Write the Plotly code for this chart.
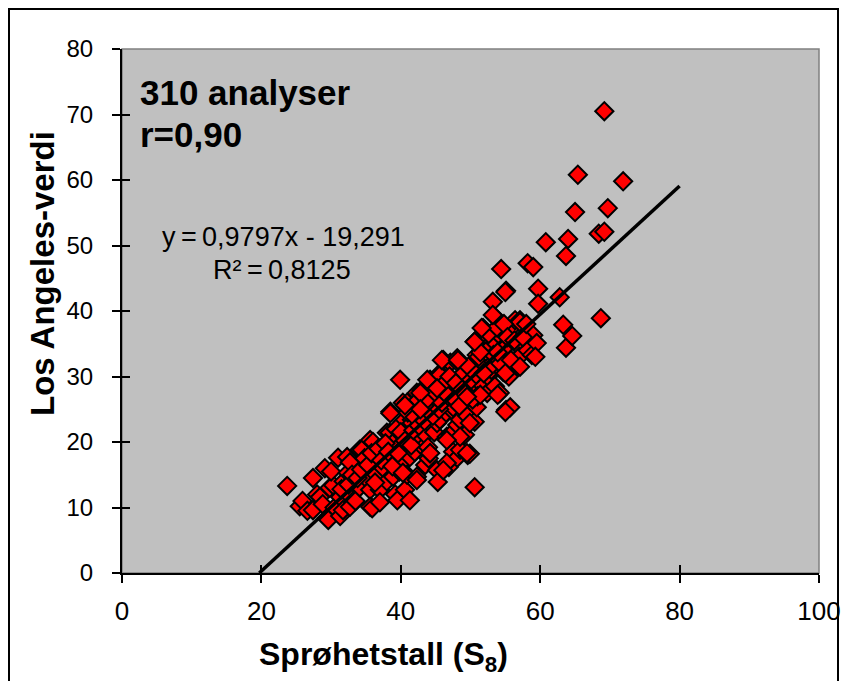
import plotly.graph_objects as go

# Sprøhetstall (S8) vs Los Angeles-verdi
pts = [
    (23.7,13.3),(25.5,10.2),(25.9,11.0),(26.6,9.5),(27.4,9.6),(27.4,14.5),(28.0,12.0),(28.4,11.6),
    (28.8,10.5),(29.1,16.0),(29.4,8.4),(29.6,8.1),(29.8,13.0),(30.3,13.4),(30.0,15.5),(30.5,10.0),
    (31.0,17.6),(31.3,11.6),(31.3,8.7),(31.7,9.6),(31.8,14.0),(32.3,17.7),(32.4,15.3),(32.7,16.9),
    (32.7,10.1),(32.0,12.5),(33.2,13.8),(33.5,11.0),
    (34.1,13.1),(34.1,18.8),(34.4,18.8),(34.6,16.0),(35.0,14.5),(35.6,20.3),(35.6,12.7),(35.6,10.1),
    (35.9,9.9),(36.0,20.0),(36.0,17.0),(36.6,17.7),(36.5,15.0),(37.0,12.7),(37.0,10.8),(37.4,18.8),
    (37.5,16.0),(38.0,21.4),(38.0,14.0),(38.4,21.4),(38.5,17.3),(38.5,24.6),(38.7,19.5),(38.9,14.7),
    (39.2,12.0),(39.5,11.1),(39.5,17.3),(39.5,20.5),(39.9,29.5),(39.9,19.5),(39.8,15.5),
    (40.3,26.0),(40.3,23.1),(40.3,16.8),(40.3,19.1),(40.6,12.7),(40.9,26.0),(40.9,15.0),(41.3,11.1),
    (41.3,17.7),(41.6,23.4),(41.6,22.9),(41.0,21.0),(42.3,27.5),(42.3,14.7),(42.3,20.8),(42.3,14.2),
    (42.5,26.4),(42.0,18.5),(43.0,27.5),(43.0,27.9),(43.2,24.4),(43.2,19.2),(43.5,21.1),(43.5,16.5),
    (43.9,19.2),(44.2,29.5),(44.5,28.7),(44.0,23.0),(44.5,25.5),(44.8,21.5),(44.0,17.5),
    (45.2,22.9),(45.2,26.4),(45.2,15.7),(45.3,13.9),(45.3,26.9),(45.6,30.5),(45.6,30.2),(45.6,23.4),
    (46.1,32.5),(46.6,20.8),(46.9,16.2),(46.0,28.0),(46.5,24.5),(47.1,32.1),(47.1,28.4),(47.1,21.1),
    (47.3,24.9),(47.5,25.3),(47.5,18.5),(48.1,32.2),(48.1,32.8),(48.1,22.6),(48.1,17.6),(48.2,26.4),
    (48.5,29.9),(48.5,23.4),(48.5,18.8),(48.0,27.5),(49.2,21.1),(49.5,26.4),(49.6,18.0),(49.9,18.2),
    (49.0,30.5),(49.5,24.0),(49.8,28.5),
    (50.6,23.1),(50.6,13.1),(50.4,31.3),(50.9,33.3),(50.9,35.6),(50.6,35.3),(50.9,25.3),(50.5,28.0),
    (51.4,29.0),(51.8,37.4),(51.5,32.0),(51.0,27.0),(52.4,27.5),(52.8,32.8),(52.0,35.0),(52.5,30.0),
    (53.1,35.1),(53.1,35.3),(53.2,41.4),(53.5,39.1),(53.0,31.0),(53.5,28.5),(54.2,27.5),(54.4,46.4),
    (54.7,30.7),(54.7,33.6),(54.0,36.5),(55.1,43.1),(55.1,24.9),(55.5,30.0),(55.0,34.5),(55.7,25.3),
    (56.1,37.7),(56.4,38.6),(56.7,34.8),(56.8,31.5),(57.1,38.6),(57.1,38.3),(57.0,33.0),(58.2,47.3),
    (58.2,34.0),(58.8,33.3),(59.0,46.7),(59.0,36.3),(59.5,35.1),(59.7,43.4),(59.7,41.1),(60.8,50.5),
    (62.8,42.1),(63.3,37.9),(63.7,48.4),(63.7,34.4),(64.0,51.0),(64.6,36.2),(65.0,55.1),(65.4,60.8),
    (68.4,51.8),(68.7,38.9),(69.2,52.1),(69.2,70.5),(69.7,55.7),(71.9,59.8),
    # denser core of the cloud
    (31.5,12.8),(32.5,13.5),(33.0,15.0),(33.8,14.5),(34.3,15.8),(34.8,17.5),(35.3,16.5),(35.8,18.3),
    (36.3,13.8),(36.8,19.0),(37.2,17.2),(37.8,19.8),(38.2,18.5),(38.8,16.3),(39.3,22.0),(39.6,18.3),
    (40.0,21.5),(40.6,20.2),(41.0,24.5),(41.5,19.5),(41.8,21.8),(42.0,23.8),(42.6,22.5),(42.8,25.0),
    (43.4,23.2),(43.8,26.5),(44.2,18.3),(44.6,24.0),(45.0,27.5),(45.5,25.0),(45.9,26.0),(46.3,29.0),
    (46.8,27.0),(47.0,30.0),(47.7,26.5),(47.9,29.0),(48.4,25.5),(48.8,28.0),(49.3,27.3),(49.7,31.5),
    (50.1,29.5),(50.3,26.5),(50.8,30.3),(51.2,33.0),(51.6,34.0),(51.9,30.5),(52.2,33.8),(52.6,36.5),
    (53.3,33.3),(53.8,37.5),(54.3,32.0),(54.8,38.0),(55.3,36.0),(55.8,32.5),(56.3,35.5),(57.5,36.0),
    (58.0,38.0),(59.3,33.0),(57.1,31.5),(55.0,30.5),(53.9,33.7),(51.4,33.7),(45.9,32.5),(48.2,32.5),
    (43.8,29.5),(45.2,28.2),(53.9,27.2),(55.0,24.6),(51.4,27.2),(49.5,26.9),(42.8,27.5),(40.6,25.6),
    (38.5,24.4),(42.8,25.0),(49.9,22.9),(48.5,20.8),(46.6,20.3),(44.2,18.3),(46.6,16.8),(49.5,18.3),
    (40.3,15.3),(46.1,15.7),(55.0,42.9),(53.2,39.4),(51.6,37.4),(50.6,35.3),
]
s8 = [p[0] for p in pts]
la = [p[1] for p in pts]

slope = 0.9797
intercept = -19.291
x_end = 80
x_tick_vals = [0, 20, 40, 60, 80, 100]
y_tick_vals = [0, 10, 20, 30, 40, 50, 60, 70, 80]

x_line = [-intercept / slope, x_end]
y_line = [slope * v + intercept for v in x_line]

FONT = "Liberation Sans, Arial, sans-serif"
TS = "\u2009"  # thin space, as around "=" in the reference

# page body has an 8px margin; the figure is sized so the plot lands where the reference has it
OFF = 8
W, H = 853 - OFF, 681 - OFF
PL, PR, PT, PB = 122, 819, 49, 573   # plot area in window pixels


def px(xp):
    return (xp - PL) / (PR - PL)


def py(yp):
    return (PB - yp) / (PB - PT)


fig = go.Figure()
fig.add_trace(go.Scatter(
    x=s8, y=la, mode="markers",
    marker=dict(symbol="diamond", size=14, color="#FF0000",
                line=dict(color="#000000", width=2)),
    showlegend=False, hoverinfo="skip"))
fig.add_trace(go.Scatter(
    x=x_line, y=y_line, mode="lines",
    line=dict(color="#000000", width=3.5),
    showlegend=False, hoverinfo="skip"))
# invisible trace to activate the overlay axes (inside half of the crossing ticks)
fig.add_trace(go.Scatter(x=[None], y=[None], xaxis="x2", yaxis="y2", showlegend=False))

axis_common = dict(showgrid=False, zeroline=False, showline=True, linecolor="#000000",
                   linewidth=2, tickcolor="#000000", tickwidth=2)

fig.update_layout(
    width=W, height=H,
    margin=dict(l=PL - OFF, r=W - (PR - OFF), t=PT - OFF, b=H - (PB - OFF), autoexpand=False),
    paper_bgcolor="#FFFFFF", plot_bgcolor="#C0C0C0",
    font=dict(family=FONT, color="#000000"),
    xaxis=dict(range=[0, 100], tickvals=x_tick_vals, ticks="outside", ticklen=8,
               tickfont=dict(size=26, family=FONT), ticklabelstandoff=6,
               **axis_common),
    yaxis=dict(range=[0, 80], tickvals=y_tick_vals, ticks="outside", ticklen=8,
               tickfont=dict(size=24, family=FONT), ticklabelstandoff=14,
               **axis_common),
    xaxis2=dict(range=[0, 100], tickvals=x_tick_vals, ticks="inside", ticklen=8, showticklabels=False,
                overlaying="x", anchor="y2", **axis_common),
    yaxis2=dict(range=[0, 80], tickvals=y_tick_vals, ticks="inside", ticklen=8, showticklabels=False,
                overlaying="y", anchor="x2", **axis_common),
    shapes=[
        dict(type="rect", xref="paper", yref="paper", x0=0, x1=1, y0=0, y1=1,
             line=dict(color="#808080", width=1.5), layer="below"),
        dict(type="rect", xref="paper", yref="paper",
             x0=px(9), x1=px(838), y0=py(700), y1=py(9),
             line=dict(color="#000000", width=2)),
    ],
    annotations=[
        dict(text="<b>310 analyser</b>", xref="paper", yref="paper", x=px(138),
             y=py(92), xanchor="left", yanchor="middle", showarrow=False,
             font=dict(size=35, family=FONT)),
        dict(text="<b>r=0,90</b>", xref="paper", yref="paper", x=px(138),
             y=py(134), xanchor="left", yanchor="middle", showarrow=False,
             font=dict(size=35, family=FONT)),
        dict(text=f"y{TS}={TS}0,9797x - 19,291", xref="paper", yref="paper", x=px(283),
             y=py(237), xanchor="center", yanchor="middle", showarrow=False,
             font=dict(size=27, family=FONT)),
        dict(text=f"R²{TS}={TS}0,8125", xref="paper", yref="paper", x=px(282),
             y=py(270), xanchor="center", yanchor="middle", showarrow=False,
             font=dict(size=27, family=FONT)),
        dict(text="<b>Sprøhetstall (S<sub>8</sub>)</b>", xref="paper", yref="paper", x=px(383),
             y=py(656), xanchor="center", yanchor="middle", showarrow=False,
             font=dict(size=32, family=FONT)),
        dict(text="<b>Los Angeles-verdi</b>", xref="paper", yref="paper", x=px(42),
             y=py(274), xanchor="center", yanchor="middle", showarrow=False, textangle=-90,
             font=dict(size=33, family=FONT)),
    ],
)

fig.write_html("out.html")
